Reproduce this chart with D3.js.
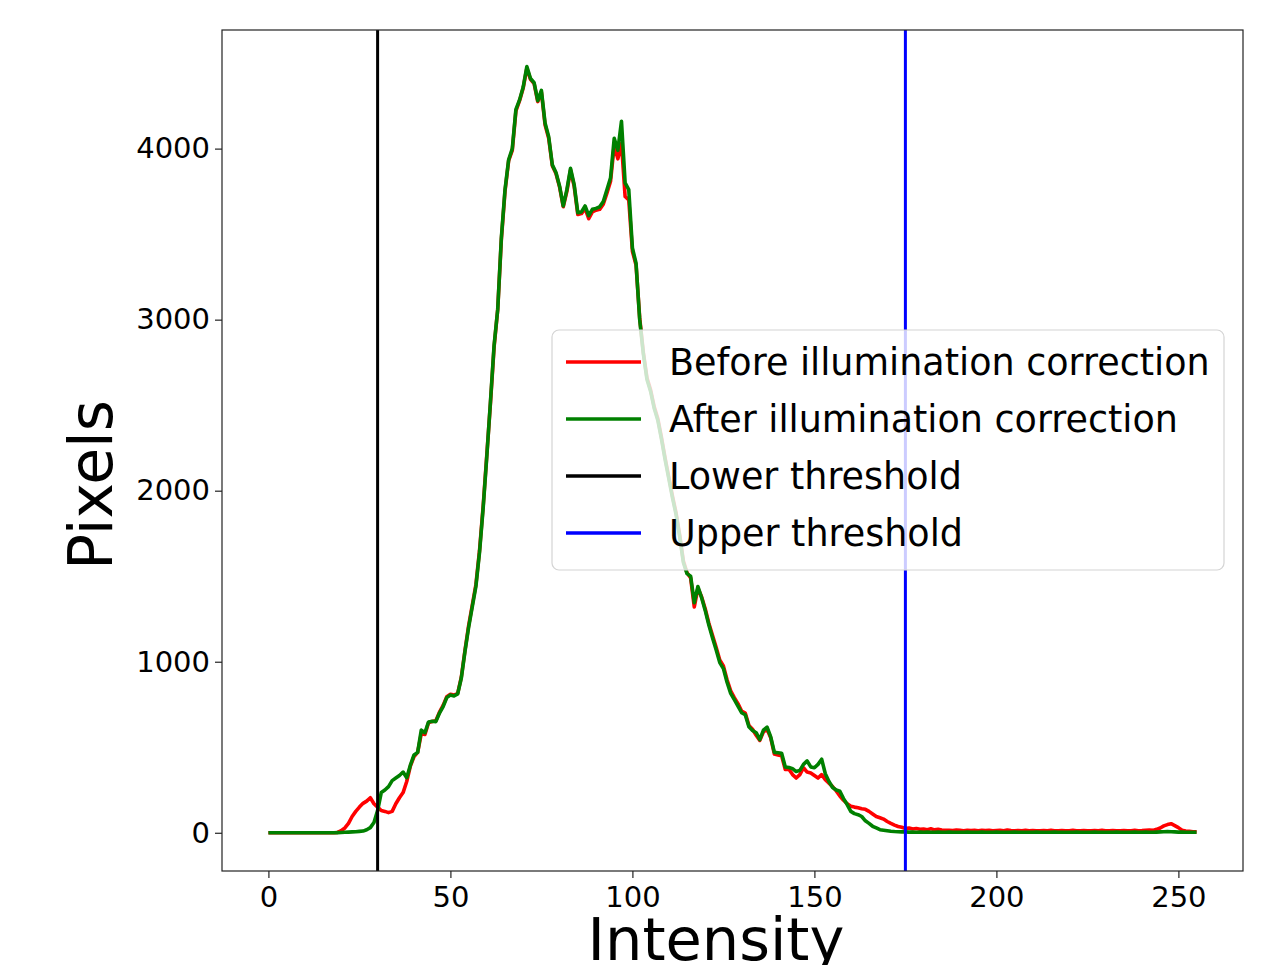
<!DOCTYPE html>
<html>
<head>
<meta charset="utf-8">
<script src="https://cdn.jsdelivr.net/npm/d3@7"></script>
<style>
  body { margin: 0; background: #fff; }
  text { font-family: "DejaVu Sans", sans-serif; fill: #000; }
</style>
</head>
<body>
<svg id="canvas" width="1280" height="965"></svg>
<script>
// ************************************************************************************** //
// Data (pixel counts per intensity bin)

var before_counts = [
  0,0,0,0,0,0,0,0,0,0,
  0,0,0,0,0,0,0,0,0,2,
  12,28,55,95,125,150,172,185,205,170,
  150,130,125,118,125,170,205,235,300,390,
  445,470,580,575,645,650,655,705,745,795,
  810,805,815,910,1065,1210,1330,1450,1650,1910,
  2210,2510,2840,3060,3470,3750,3930,3990,4220,4280,
  4355,4470,4405,4380,4275,4330,4140,4060,3900,3855,
  3775,3660,3750,3875,3780,3615,3620,3650,3590,3630,
  3640,3645,3675,3740,3810,4020,3940,4030,3720,3700,
  3400,3320,3010,2810,2660,2590,2490,2420,2310,2190,
  2080,1970,1870,1740,1590,1520,1490,1320,1430,1380,
  1310,1225,1155,1085,1010,975,895,830,790,755,
  712,700,628,605,570,540,590,605,555,460,
  455,450,370,372,340,320,340,380,355,350,
  335,320,340,310,290,270,245,215,190,170,
  155,150,146,140,137,125,110,95,88,80,
  66,55,45,37,32,25,28,22,25,20,
  22,18,23,17,20,16,14,15,13,16,
  14,12,15,13,14,12,14,13,15,12,
  13,14,12,16,13,12,13,11,14,12,
  13,12,11,13,12,14,12,11,13,12,
  12,14,11,12,13,12,11,13,12,14,
  12,11,13,12,12,13,11,12,14,12,
  13,15,16,14,20,28,40,48,53,42,
  30,15,10,8,6,5
];

var after_counts = [
  0,0,0,0,0,0,0,0,0,0,
  0,0,0,0,0,0,0,0,0,1,
  2,3,4,5,6,8,10,18,30,60,
  130,235,250,270,305,320,335,355,322,395,
  455,470,600,585,648,652,650,700,738,790,
  805,800,812,905,1060,1200,1320,1440,1640,1900,
  2200,2520,2850,3060,3480,3760,3935,4000,4230,4285,
  4360,4480,4410,4385,4280,4340,4150,4070,3905,3860,
  3780,3665,3760,3885,3790,3625,3630,3665,3608,3645,
  3650,3660,3690,3760,3830,4060,3990,4160,3800,3760,
  3420,3330,3000,2800,2650,2580,2480,2410,2300,2180,
  2070,1960,1860,1730,1580,1515,1500,1345,1440,1375,
  1300,1215,1140,1070,995,960,880,815,778,740,
  702,690,620,598,585,545,600,618,560,470,
  468,465,385,382,375,358,365,400,420,385,
  380,400,430,345,300,265,250,243,200,165,
  125,112,106,95,70,55,38,28,18,15,
  12,9,7,6,5,5,4,4,3,4,
  3,4,3,3,4,3,3,4,3,3,
  3,3,4,3,3,3,4,3,3,3,
  4,3,3,3,3,4,3,3,3,3,
  3,4,3,3,3,3,4,3,3,3,
  3,3,4,3,3,3,3,4,3,3,
  3,3,3,4,3,3,3,3,4,3,
  3,4,3,3,4,5,6,7,6,5,
  4,4,3,3,3,3
];

var lower_threshold = 30;
var upper_threshold = 175;

var x_ticks = [0, 50, 100, 150, 200, 250];
var y_ticks = [0, 1000, 2000, 3000, 4000];

var legend_labels = ['Before illumination correction', 'After illumination correction', 'Lower threshold', 'Upper threshold'];
var legend_colors = ['#ff0000', '#008000', '#000000', '#0000ff'];

// ************************************************************************************** //
// Preparing the axes

var plot = { left: 222, right: 1243, top: 30, bottom: 871 };

var x_scale = d3.scaleLinear().domain([-12.75, 267.75]).range([plot.left, plot.right]);
var y_scale = d3.scaleLinear().domain([-223.5, 4693.5]).range([plot.bottom, plot.top]);

var svg = d3.select('#canvas');

svg.append('defs').append('clipPath').attr('id', 'plot_clip')
  .append('rect')
  .attr('x', plot.left).attr('y', plot.top)
  .attr('width', plot.right - plot.left).attr('height', plot.bottom - plot.top);

var x_axis = svg.append('g')
  .attr('transform', 'translate(0,' + plot.bottom + ')')
  .call(d3.axisBottom(x_scale).tickValues(x_ticks).tickSize(7).tickPadding(6).tickFormat(d3.format('d')));

var y_axis = svg.append('g')
  .attr('transform', 'translate(' + plot.left + ',0)')
  .call(d3.axisLeft(y_scale).tickValues(y_ticks).tickSize(7).tickPadding(5).tickFormat(d3.format('d')));

[x_axis, y_axis].forEach(function(ax){
  ax.select('.domain').remove();
  ax.selectAll('line').attr('stroke', '#222').attr('stroke-width', 1.2);
  ax.selectAll('text').attr('font-size', 29).attr('font-family', '"DejaVu Sans", sans-serif').attr('fill', '#000');
});
x_axis.selectAll('text').attr('dy', '0.8em');

// ************************************************************************************** //
// Histogram lines

var plot_g = svg.append('g').attr('clip-path', 'url(#plot_clip)');

var line = d3.line()
  .x(function(d, i){ return x_scale(i); })
  .y(function(d){ return y_scale(d); });

plot_g.append('path').datum(before_counts)
  .attr('d', line).attr('fill', 'none')
  .attr('stroke', legend_colors[0]).attr('stroke-width', 3.6).attr('stroke-linejoin', 'round');

plot_g.append('path').datum(after_counts)
  .attr('d', line).attr('fill', 'none')
  .attr('stroke', legend_colors[1]).attr('stroke-width', 3.6).attr('stroke-linejoin', 'round');

// Threshold lines
[lower_threshold, upper_threshold].forEach(function(t, k){
  plot_g.append('line')
    .attr('x1', x_scale(t)).attr('x2', x_scale(t))
    .attr('y1', plot.top).attr('y2', plot.bottom)
    .attr('stroke', legend_colors[2 + k]).attr('stroke-width', 3);
});

// Frame
svg.append('rect')
  .attr('x', plot.left).attr('y', plot.top)
  .attr('width', plot.right - plot.left).attr('height', plot.bottom - plot.top)
  .attr('fill', 'none').attr('stroke', '#222').attr('stroke-width', 1.2);

// ************************************************************************************** //
// Legend

var legend_g = svg.append('g').attr('transform', 'translate(552,330)');
legend_g.append('rect')
  .attr('x', 0).attr('y', 0).attr('width', 672).attr('height', 240)
  .attr('rx', 7).attr('ry', 7)
  .attr('fill', '#fff').attr('fill-opacity', 0.8)
  .attr('stroke', '#d4d4d4').attr('stroke-width', 1.2);

for(var i = 0; i < legend_labels.length; i++){
  var row_y = 32 + i*57;
  legend_g.append('line')
    .attr('x1', 14).attr('x2', 89).attr('y1', row_y).attr('y2', row_y)
    .attr('stroke', legend_colors[i]).attr('stroke-width', 3.5);
  legend_g.append('text')
    .attr('x', 117).attr('y', row_y).attr('dy', '0.36em')
    .attr('font-size', 36.5)
    .text(legend_labels[i]);
}

// ************************************************************************************** //
// Axis titles

svg.append('text')
  .attr('x', 716).attr('y', 960)
  .attr('text-anchor', 'middle').attr('font-size', 59)
  .text('Intensity');

svg.append('text')
  .attr('transform', 'translate(112,485) rotate(-90)')
  .attr('text-anchor', 'middle').attr('font-size', 60)
  .text('Pixels');
</script>
</body>
</html>
